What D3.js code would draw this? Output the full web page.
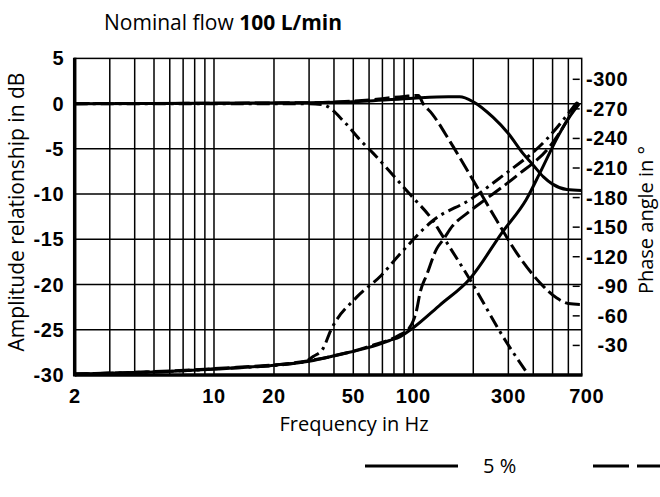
<html>
  <head>
    <script src="https://cdn.jsdelivr.net/npm/d3@7"></script>
    <style>
      body { margin: 0; background: #fff; }
      .tick-label { font-family: "Liberation Sans", Arial, sans-serif; font-weight: bold; font-size: 20px; letter-spacing: 0.5px; }
      .title { font-family: "Open Sans", sans-serif; font-size: 20px; }
    </style>
  </head>
  <body>
    <div id="chart"></div>
    <script>
      // tick values
      const freqTicks = [2, 10, 20, 50, 100, 300, 700];
      const freqGrid = [3, 4, 5, 6, 7, 8, 9, 10, 20, 30, 40, 50, 60, 70, 80, 90, 100, 200, 300, 400, 500, 600];
      const dbTicks = [5, 0, -5, -10, -15, -20, -25, -30];
      const phaseTicks = [-300, -270, -240, -210, -180, -150, -120, -90, -60, -30];

      // amplitude in dB, [Hz, dB]
      const ampSolid = [[2, 0], [30, 0.1], [60, 0.3], [100, 0.6], [150, 0.75], [171, 0.75], [200, 0.2], [251, -1.5], [300, -3.3], [355, -5.5], [400, -6.8], [450, -8.1], [500, -8.9], [590, -9.5], [700, -9.6]];
      const ampDash = [[2, 0], [30, 0.1], [60, 0.4], [90, 0.8], [106, 0.9], [112, 0], [124, -1.1], [153, -4.2], [200, -8.5], [262, -12.9], [330, -16.5], [432, -19.8], [525, -21.5], [600, -22.1], [700, -22.2]];
      const ampDashDot = [[2, 0], [30, 0], [35, -0.1], [45, -2], [54, -4], [63, -5.5], [86, -8.8], [96, -10], [126, -13], [141, -14.7], [193, -19.5], [294, -26.4], [379, -30]];

      // phase in degrees, [Hz, deg]
      const phaseSolid = [[2, -1], [5, -3], [10, -6], [20, -10], [30, -14], [43, -21], [60, -28], [76, -35], [86, -39], [100, -48], [136, -71], [193, -98], [280, -145], [369, -178], [432, -205], [535, -243], [600, -260], [680, -275]];
      const phaseDash = [[2, -1], [10, -6.5], [30, -14.5], [60, -29], [86, -41], [95, -47], [100, -55], [104, -66], [108, -83], [117, -102], [131, -128], [141, -137], [157, -151], [186, -164], [216, -174], [330, -202], [485, -232], [670, -277]];
      const phaseDashDot = [[2, -1], [10, -6], [28, -13], [31.6, -19], [35.3, -27], [38.5, -45], [52, -79], [69, -101], [86, -123], [126, -157], [193, -178], [272, -200], [466, -239], [665, -277]];

      const W = 660, H = 497;
      const pLeft = 74.7, pRight = 581.7, pTop = 58.4, pBottom = 375;

      const svg = d3.select("#chart").append("svg").attr("width", W).attr("height", H);

      const x = d3.scaleLog().domain([2, 700]).range([pLeft, pRight]);
      const y = d3.scaleLinear().domain([-30, 5]).range([pBottom, pTop]);
      const yp = d3.scaleLinear().domain([0, -300]).range([pBottom, 79.3]);

      // title
      const title = svg.append("text").attr("class", "title").attr("x", 104).attr("y", 30)
        .style("font-size", "21px");
      title.append("tspan").text("Nominal flow ");
      title.append("tspan").attr("font-weight", "bold").text("100 L/min");

      // grid
      const grid = svg.append("g").attr("stroke", "#000").attr("stroke-width", 1.5);
      grid.selectAll(".vg").data(freqGrid).join("line")
        .attr("x1", d => x(d)).attr("x2", d => x(d))
        .attr("y1", pTop).attr("y2", pBottom);
      grid.selectAll(".hg").data(dbTicks.slice(1, -1)).join("line")
        .attr("x1", pLeft).attr("x2", pRight)
        .attr("y1", d => y(d)).attr("y2", d => y(d));

      // frame
      svg.append("rect").attr("x", pLeft).attr("y", pTop)
        .attr("width", pRight - pLeft).attr("height", pBottom - pTop)
        .attr("fill", "none").attr("stroke", "#000").attr("stroke-width", 1.5);
      svg.append("line").attr("x1", pLeft).attr("x2", pLeft).attr("y1", pTop - 0.75).attr("y2", pBottom + 1.5)
        .attr("stroke", "#000").attr("stroke-width", 3.5);
      svg.append("line").attr("x1", pLeft).attr("x2", pRight + 0.75).attr("y1", pBottom).attr("y2", pBottom)
        .attr("stroke", "#000").attr("stroke-width", 3.5);

      // right phase ticks
      svg.selectAll(".ptick").data(phaseTicks).join("line")
        .attr("x1", pRight - 9).attr("x2", pRight - 2)
        .attr("y1", d => yp(d)).attr("y2", d => yp(d))
        .attr("stroke", "#000").attr("stroke-width", 1.5);

      // axis labels
      svg.selectAll(".xl").data(freqTicks).join("text")
        .attr("class", "tick-label")
        .attr("x", d => x(d) + (d === 700 ? 5 : 0))
        .attr("y", 403)
        .attr("text-anchor", "middle")
        .text(d => d);
      svg.selectAll(".yl").data(dbTicks).join("text")
        .attr("class", "tick-label")
        .attr("x", 64)
        .attr("y", d => y(d) + 7)
        .attr("text-anchor", "end")
        .text(d => d);
      svg.selectAll(".pl").data(phaseTicks).join("text")
        .attr("class", "tick-label")
        .attr("x", 628)
        .attr("y", d => yp(d) + 7)
        .attr("text-anchor", "end")
        .text(d => d);

      svg.append("text").attr("class", "title")
        .attr("x", 354).attr("y", 431).attr("text-anchor", "middle")
        .text("Frequency in Hz");
      svg.append("text").attr("class", "title")
        .attr("transform", "translate(24,212) rotate(-90)")
        .attr("text-anchor", "middle")
        .style("font-size", "21px")
        .text("Amplitude relationship in dB");
      svg.append("text").attr("class", "title")
        .attr("transform", "translate(653,220) rotate(-90)")
        .attr("text-anchor", "middle")
        .text("Phase angle in \u00b0");

      // curves
      const ampLine = d3.line().x(d => x(d[0])).y(d => y(d[1])).curve(d3.curveMonotoneX);
      const phaseLine = d3.line().x(d => x(d[0])).y(d => yp(d[1])).curve(d3.curveMonotoneX);

      const styles = { solid: null, dash: "15,5", dashdot: "13,5,3,5" };
      const curves = [
        [ampSolid, ampLine, styles.solid],
        [ampDash, ampLine, styles.dash],
        [ampDashDot, ampLine, styles.dashdot],
        [phaseSolid, phaseLine, styles.solid],
        [phaseDash, phaseLine, styles.dash],
        [phaseDashDot, phaseLine, styles.dashdot],
      ];
      svg.append("g").selectAll("path").data(curves).join("path")
        .attr("d", d => d[1](d[0]))
        .attr("fill", "none")
        .attr("stroke", "#000")
        .attr("stroke-width", 3)
        .attr("stroke-dasharray", d => d[2]);

      // legend
      const legendY = 466;
      svg.append("line").attr("x1", 365).attr("x2", 458).attr("y1", legendY).attr("y2", legendY)
        .attr("stroke", "#000").attr("stroke-width", 3);
      svg.append("text").attr("class", "title").attr("x", 483).attr("y", legendY + 7).text("5 %");
      svg.append("line").attr("x1", 593).attr("x2", 680).attr("y1", legendY).attr("y2", legendY)
        .attr("stroke", "#000").attr("stroke-width", 3).attr("stroke-dasharray", "36,8");
    </script>
  </body>
</html>
